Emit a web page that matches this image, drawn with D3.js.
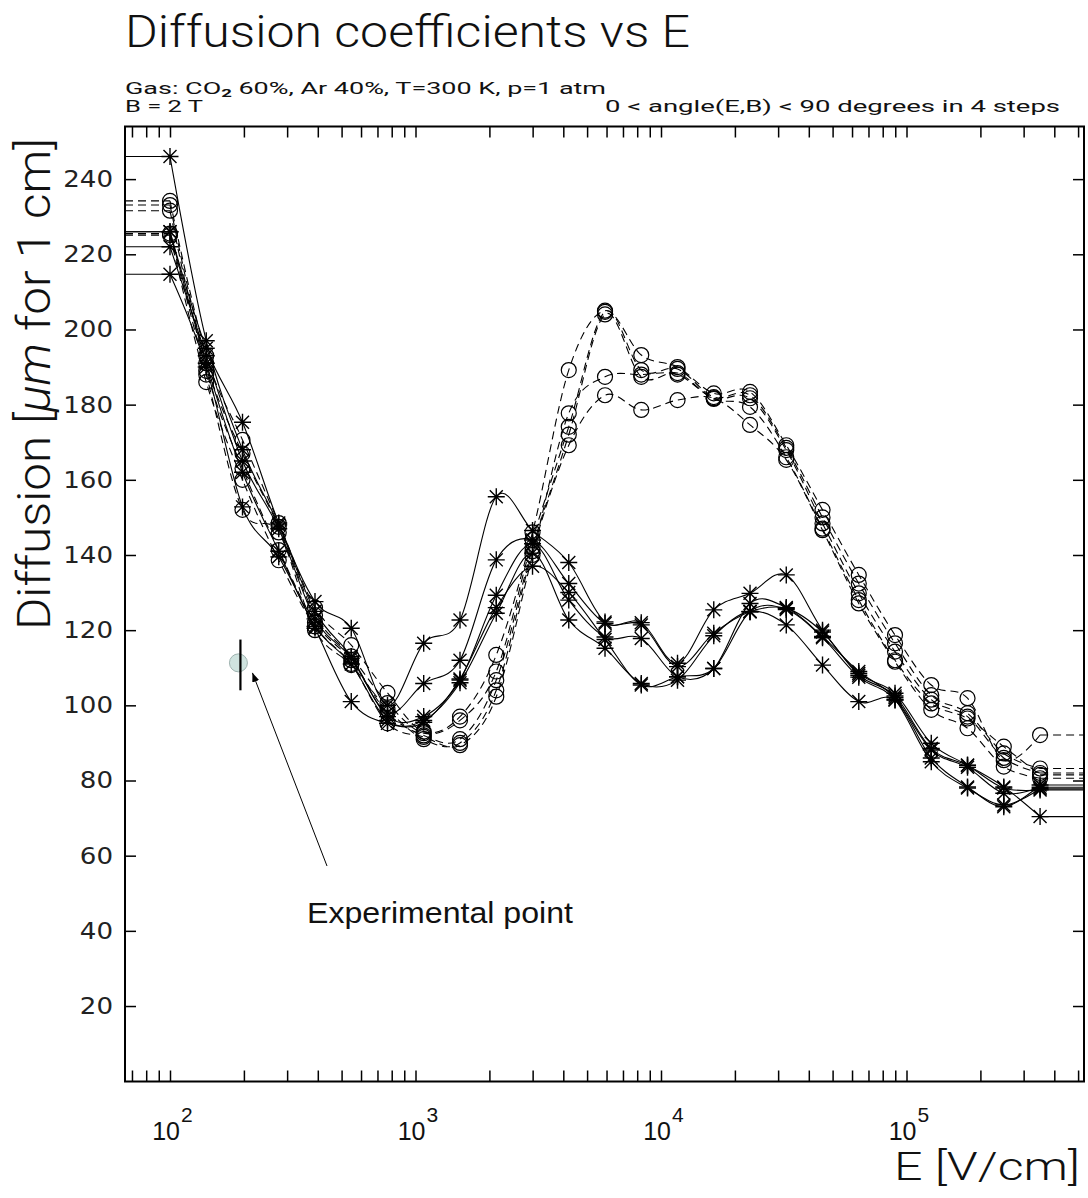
<!DOCTYPE html>
<html><head><meta charset="utf-8">
<script src="https://cdn.jsdelivr.net/npm/d3@7"></script>
<style>body{margin:0;background:#fff} svg{display:block}</style>
</head><body>
<script>
// ---- data ----
const fieldE = [100, 140.5, 197.4, 277.3, 389.6, 547.4, 769.1, 1080, 1518, 2133, 2997, 4210, 5915, 8310, 11675, 16403, 23046, 32378, 45490, 63911, 89792, 126152, 177237, 249010, 350000];

const star1 = [226, 195, 175.3, 148.5, 127.6, 120.5, 100, 116.5, 122.7, 155.5, 146.5, 138, 122.2, 122, 111.2, 125.4, 129.8, 134.7, 120, 108.5, 103.2, 89.9, 84.1, 78.3, 70.4];
const star2 = [246, 197, 168, 148, 125, 113, 98, 105.8, 112, 138.7, 144, 132.4, 121.8, 121.4, 110.3, 119.2, 124.9, 125.8, 119.5, 108, 102.5, 88.5, 84, 78, 77.5];
const star3 = [222, 193, 165, 147, 123, 112.5, 97, 97, 106.7, 129.3, 143, 128, 118.2, 117.8, 107.6, 109.8, 127.1, 126, 118.3, 109, 102, 88.1, 83.5, 76.6, 78.2];
const star4 = [226, 191, 162, 141, 121, 111, 96, 96, 106, 124.5, 140.5, 122.7, 115.2, 105.8, 106.7, 118.5, 125, 121.4, 110.7, 101, 101.4, 86, 78.3, 73, 78.8];
const star5 = [214.7, 190, 152.8, 139.5, 120.5, 101, 95.2, 95.5, 107, 126, 137, 130, 117.5, 105.4, 107.6, 109.8, 124.9, 125.5, 118, 107.5, 101.5, 85, 78, 73.5, 77.8];

const circ1 = [234.2, 193, 170.6, 148.5, 126, 116, 103.3, 93, 97, 113.4, 146, 189.2, 205, 193.2, 190, 183, 183.4, 169.2, 152, 134.7, 118.7, 105.4, 101.9, 85.4, 92.1];
const circ2 = [233.1, 191, 167, 147.5, 124, 113, 100.6, 92.6, 96, 109, 144, 174.1, 204.7, 189.2, 189.5, 182, 182.5, 168.5, 150, 132.4, 116.5, 102.7, 97.9, 87.2, 83.2];
const circ3 = [231.6, 189, 163, 141.3, 122, 112, 98, 92, 91, 106.7, 142, 172, 204, 187.4, 188.4, 181.7, 181.7, 167.9, 148.4, 129.8, 114.3, 101.5, 97, 86, 82];
const circ4 = [225.1, 186, 160, 138.6, 121, 111, 95.2, 91.6, 89.4, 102.3, 140, 177.7, 187.4, 188, 188, 181.5, 179.4, 166, 147, 128, 112, 100.5, 96.5, 89, 81.5];
const circ5 = [225.5, 188, 152, 146, 120, 110.7, 99, 91, 90, 104, 141, 169.2, 182.5, 178.6, 181.2, 181.7, 174.6, 165.3, 146.6, 127.1, 111.6, 98.8, 93.9, 83.7, 80.6];

const expE = 190, expValue = 111.3, expLow = 104, expHigh = 117.5;

const yTicks = [20, 40, 60, 80, 100, 120, 140, 160, 180, 200, 220, 240];
const xMajor = [100, 1000, 10000, 100000];
const xMajorExp = ["2", "3", "4", "5"];
const xTicks = [70, 80, 90, 100, 200, 300, 400, 500, 600, 700, 800, 900, 1000,
  2000, 3000, 4000, 5000, 6000, 7000, 8000, 9000, 10000,
  20000, 30000, 40000, 50000, 60000, 70000, 80000, 90000, 100000,
  200000, 300000, 400000, 500000];

// ---- layout ----
const W = 1088, H = 1198;
const L = 125, R = 1084, T = 126.5, B = 1081.5;
const svg = d3.select("body").append("svg").attr("width", W).attr("height", H);

const x = d3.scaleLog().domain([65.57, 528450]).range([L, R]);
const y = d3.scaleLinear().domain([0, 254]).range([1081.2, 126.5]);

const hershey = "Roboto, 'DejaVu Sans', sans-serif";

// title & subtitles
svg.append("text").attr("x", L).attr("y", 47).attr("font-family", hershey).attr("font-weight", 300)
  .attr("font-size", 45).attr("textLength", 565).attr("lengthAdjust", "spacingAndGlyphs")
  .attr("fill", "#111").text("Diffusion coefficients vs E");

const sub = svg.append("text").attr("x", L).attr("y", 94).attr("font-family", hershey)
  .attr("font-size", 16).attr("textLength", 481).attr("lengthAdjust", "spacingAndGlyphs").attr("fill", "#111");
sub.append("tspan").text("Gas: CO");
sub.append("tspan").attr("font-size", 11).attr("font-weight", 700).attr("dy", 3).text("2");
sub.append("tspan").attr("dy", -3).text(" 60%, Ar 40%, T=300 K, p=1 atm");

svg.append("text").attr("x", L).attr("y", 111.5).attr("font-family", hershey).attr("fill", "#111")
  .attr("font-size", 16).attr("textLength", 78).attr("lengthAdjust", "spacingAndGlyphs").text("B = 2 T");
svg.append("text").attr("x", 605).attr("y", 111.5).attr("font-family", hershey).attr("fill", "#111")
  .attr("font-size", 16).attr("textLength", 455).attr("lengthAdjust", "spacingAndGlyphs")
  .text("0 < angle(E,B) < 90 degrees in 4 steps");

// y axis title
const yt = svg.append("text").attr("transform", "translate(50,384) rotate(-90)")
  .attr("text-anchor", "middle").attr("font-family", hershey).attr("font-weight", 300).attr("fill", "#111")
  .attr("font-size", 46).attr("textLength", 492).attr("lengthAdjust", "spacingAndGlyphs");
yt.append("tspan").text("Diffusion [");
yt.append("tspan").attr("font-style", "italic").text("μm");
yt.append("tspan").text(" for 1 cm]");

// x axis title
svg.append("text").attr("x", 894).attr("y", 1180).attr("font-family", hershey).attr("font-weight", 300)
  .attr("font-size", 38).attr("textLength", 186).attr("lengthAdjust", "spacingAndGlyphs")
  .attr("fill", "#111").text("E [V/cm]");

// axes (ticks inward)
const axB = svg.append("g").attr("transform", `translate(0,${B})`)
  .call(d3.axisBottom(x).tickValues(xTicks).tickSize(-11).tickFormat(""));
const axT = svg.append("g").attr("transform", `translate(0,${T})`)
  .call(d3.axisTop(x).tickValues(xTicks).tickSize(-11).tickFormat(""));
const axL = svg.append("g").attr("transform", `translate(${L},0)`)
  .call(d3.axisLeft(y).tickValues(yTicks).tickSize(-11).tickPadding(12).tickFormat(d3.format("d")));
const axR = svg.append("g").attr("transform", `translate(${R},0)`)
  .call(d3.axisRight(y).tickValues(yTicks).tickSize(-11).tickFormat(""));
[axB, axT, axL, axR].forEach(g => {
  g.select(".domain").remove();
  g.selectAll(".tick line").attr("stroke", "#000").attr("stroke-width", 1.5);
});
axL.selectAll(".tick text").attr("font-family", "'DejaVu Sans', sans-serif").attr("font-size", 23)
  .attr("fill", "#222")
  .attr("textLength", d => String(d).length * 16.6).attr("lengthAdjust", "spacingAndGlyphs");

// x major labels 10^n
xMajor.forEach((v, i) => {
  svg.append("text").attr("x", x(v) + 10).attr("y", 1140)
    .attr("font-family", "'Liberation Sans', Arial, sans-serif").attr("font-size", 25).attr("text-anchor", "end")
    .attr("fill", "#111").text("10");
  svg.append("text").attr("x", x(v) + 11).attr("y", 1122)
    .attr("font-family", "'Liberation Sans', Arial, sans-serif").attr("font-size", 21)
    .attr("fill", "#111").text(xMajorExp[i]);
});

// frame
svg.append("rect").attr("x", L).attr("y", T).attr("width", R - L).attr("height", B - T)
  .attr("fill", "none").attr("stroke", "#000").attr("stroke-width", 2);

// curves
const plot = svg.append("g");
const line = d3.line().x(d => x(d[0])).y(d => y(d[1])).curve(d3.curveCardinal.tension(0));

function drawSeries(vals, dashed, marker) {
  const pts = fieldE.map((e, i) => [e, vals[i]]);
  const g = plot.append("g").attr("fill", "none").attr("stroke", "#000").attr("stroke-width", 1.1);
  const dash = dashed ? "8,5" : null;
  g.append("path").attr("d", line(pts)).attr("stroke-dasharray", dash);
  // horizontal extensions to the frame
  g.append("line").attr("x1", L).attr("x2", x(fieldE[0])).attr("y1", y(vals[0])).attr("y2", y(vals[0]))
    .attr("stroke-dasharray", dash);
  const n = vals.length - 1;
  g.append("line").attr("x1", x(fieldE[n])).attr("x2", R).attr("y1", y(vals[n])).attr("y2", y(vals[n]))
    .attr("stroke-dasharray", dash);
  if (marker === "star") {
    g.selectAll("path.m").data(pts).join("path").attr("class", "m")
      .attr("d", d => {
        const cx = x(d[0]), cy = y(d[1]), a = 8.5, b = 6.5;
        return `M${cx - a},${cy}L${cx + a},${cy}M${cx},${cy - a}L${cx},${cy + a}` +
               `M${cx - b},${cy - b}L${cx + b},${cy + b}M${cx - b},${cy + b}L${cx + b},${cy - b}`;
      }).attr("stroke-width", 1.4);
  } else {
    g.selectAll("circle").data(pts).join("circle")
      .attr("cx", d => x(d[0])).attr("cy", d => y(d[1])).attr("r", 7.5).attr("stroke-width", 1.2);
  }
}
[circ1, circ2, circ3, circ4, circ5].forEach(s => drawSeries(s, true, "circle"));
[star1, star2, star3, star4, star5].forEach(s => drawSeries(s, false, "star"));

// experimental point
svg.append("circle").attr("cx", x(expE)).attr("cy", y(expValue)).attr("r", 9)
  .attr("fill", "#cfe3df").attr("stroke", "#9fb3b0").attr("stroke-width", 1);
svg.append("line").attr("x1", x(expE) + 2).attr("x2", x(expE) + 2)
  .attr("y1", y(expHigh)).attr("y2", y(expLow)).attr("stroke", "#000").attr("stroke-width", 2.2);

// annotation arrow + label
svg.append("defs").append("marker").attr("id", "ah").attr("viewBox", "0 0 10 10")
  .attr("refX", 10).attr("refY", 5).attr("markerWidth", 9).attr("markerHeight", 9)
  .attr("orient", "auto").append("path").attr("d", "M0,1L10,5L0,9Z").attr("fill", "#000");
svg.append("line").attr("x1", 327).attr("y1", 866).attr("x2", x(expE) + 14).attr("y2", y(expValue) + 10)
  .attr("stroke", "#000").attr("stroke-width", 1).attr("marker-end", "url(#ah)");
svg.append("text").attr("x", 307).attr("y", 923).attr("font-family", "'Liberation Sans', Arial, sans-serif")
  .attr("font-size", 30).attr("textLength", 266).attr("lengthAdjust", "spacingAndGlyphs")
  .attr("fill", "#111").text("Experimental point");
</script>
</body></html>
